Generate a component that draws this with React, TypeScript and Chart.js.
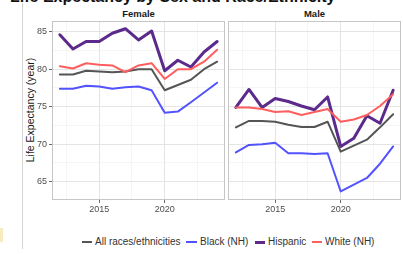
import React, { useEffect, useRef } from 'react';
import { Chart, registerables } from 'chart.js';

Chart.register(...registerables);

const years = [2012, 2013, 2014, 2015, 2016, 2017, 2018, 2019, 2020, 2021, 2022, 2023, 2024];

const femaleAll = [79.3, 79.3, 79.8, 79.7, 79.6, 79.7, 80.0, 80.0, 77.2, 77.9, 78.6, 80.0, 81.0];
const femaleBlack = [77.4, 77.4, 77.8, 77.7, 77.4, 77.6, 77.7, 77.2, 74.2, 74.35, 75.6, 76.9, 78.2];
const femaleHispanic = [84.6, 82.7, 83.7, 83.7, 84.8, 85.4, 83.9, 85.1, 79.8, 81.2, 80.3, 82.3, 83.7];
const femaleWhite = [80.4, 80.1, 80.8, 80.6, 80.5, 79.6, 80.5, 80.8, 78.7, 80.0, 80.0, 81.0, 82.6];

const maleAll = [72.25, 73.1, 73.1, 73.0, 72.6, 72.3, 72.3, 73.0, 69.0, 69.8, 70.6, 72.25, 74.0];
const maleBlack = [68.9, 69.9, 70.0, 70.2, 68.8, 68.8, 68.7, 68.8, 63.7, 64.6, 65.5, 67.4, 69.7];
const maleHispanic = [74.9, 77.3, 74.9, 76.1, 75.7, 75.1, 74.6, 76.3, 69.7, 70.8, 73.8, 72.8, 77.2];
const maleWhite = [74.9, 74.9, 74.7, 74.3, 74.4, 73.9, 74.3, 74.7, 73.0, 73.3, 73.9, 75.1, 76.65];

const seriesNames = ['All races/ethnicities', 'Black (NH)', 'Hispanic', 'White (NH)'];
const seriesColors = ['#555555', '#5252ff', '#5b2a8c', '#ff5e5e'];
const seriesWidths = [2, 2, 3, 2];

const yMajorTicks = [65, 70, 75, 80, 85];
const yMinorTicks = [67.5, 72.5, 77.5, 82.5];
const xMajorTicks = [2015, 2020];
const xMinorTicks = [2012.5, 2017.5, 2022.5];

const Y_MIN = 62.56;
const Y_MAX = 86.43;
const X_MIN = 2011.4;
const X_MAX = 2024.6;

const FONT = '"Liberation Sans", Arial, Helvetica, sans-serif';

const panelBorder = {
  id: 'panelBorder',
  afterDraw(chart: any) {
    const { ctx, chartArea: a } = chart;
    ctx.save();
    ctx.strokeStyle = '#c6c6c6';
    ctx.lineWidth = 1;
    ctx.strokeRect(Math.round(a.left) + 0.5, Math.round(a.top) + 0.5, Math.round(a.right - a.left) - 1, Math.round(a.bottom - a.top) - 1);
    ctx.restore();
  },
};

function makeDatasets(values: number[][]) {
  return values.map((vals, i) => ({
    label: seriesNames[i],
    data: years.map((y, j) => ({ x: y, y: vals[j] })),
    borderColor: seriesColors[i],
    backgroundColor: seriesColors[i],
    borderWidth: seriesWidths[i],
    pointRadius: 0,
    tension: 0,
    fill: false,
    order: 4 - i,
    borderJoinStyle: 'round',
    borderCapStyle: 'round',
  }));
}

function isMajor(v: number, majors: number[]) {
  return majors.some((m) => Math.abs(m - v) < 1e-6);
}

function makeOptions(showY: boolean, padding: any, yWidth: number) {
  return {
    responsive: false,
    maintainAspectRatio: false,
    animation: false,
    events: [],
    layout: { padding },
    plugins: { legend: { display: false }, tooltip: { enabled: false } },
    scales: {
      x: {
        type: 'linear',
        min: X_MIN,
        max: X_MAX,
        afterBuildTicks: (s: any) => {
          s.ticks = [...xMinorTicks, ...xMajorTicks].sort((a, b) => a - b).map((v) => ({ value: v }));
        },
        afterFit: (s: any) => {
          s.height = 16;
        },
        border: { display: false },
        grid: {
          color: (c: any) => (c.tick && isMajor(c.tick.value, xMajorTicks) ? '#e4e4e4' : '#f1f1f1'),
          lineWidth: (c: any) => (c.tick && isMajor(c.tick.value, xMajorTicks) ? 1 : 0.7),
          drawTicks: true,
          tickLength: 3,
          tickColor: (c: any) => (c.tick && isMajor(c.tick.value, xMajorTicks) ? '#444444' : 'rgba(0,0,0,0)'),
          tickWidth: 0.8,
        },
        ticks: {
          autoSkip: false,
          maxRotation: 0,
          padding: 1,
          color: '#4d4d4d',
          font: { family: FONT, size: 9 },
          callback: (v: any) => (isMajor(Number(v), xMajorTicks) ? String(Math.round(Number(v))) : ''),
        },
      },
      y: {
        type: 'linear',
        min: Y_MIN,
        max: Y_MAX,
        afterBuildTicks: (s: any) => {
          s.ticks = [...yMinorTicks, ...yMajorTicks].sort((a, b) => a - b).map((v) => ({ value: v }));
        },
        afterFit: (s: any) => {
          s.width = yWidth;
        },
        border: { display: false },
        grid: {
          color: (c: any) => (c.tick && isMajor(c.tick.value, yMajorTicks) ? '#e4e4e4' : '#f1f1f1'),
          lineWidth: (c: any) => (c.tick && isMajor(c.tick.value, yMajorTicks) ? 1 : 0.7),
          drawTicks: showY,
          tickLength: 3,
          tickColor: (c: any) => (c.tick && isMajor(c.tick.value, yMajorTicks) ? '#444444' : 'rgba(0,0,0,0)'),
          tickWidth: 0.8,
        },
        ticks: {
          display: showY,
          autoSkip: false,
          padding: 2,
          color: '#4d4d4d',
          font: { family: FONT, size: 9 },
          callback: (v: any) => (isMajor(Number(v), yMajorTicks) ? String(Math.round(Number(v))) : ''),
        },
      },
    },
  };
}

function Panel(props: { values: number[][]; showY: boolean; left: number; top: number; width: number; height: number; padding: any; yWidth: number }) {
  const ref = useRef<HTMLCanvasElement | null>(null);
  useEffect(() => {
    if (!ref.current) return;
    const chart = new Chart(ref.current, {
      type: 'line',
      data: { datasets: makeDatasets(props.values) as any },
      options: makeOptions(props.showY, props.padding, props.yWidth) as any,
      plugins: [panelBorder],
    });
    return () => chart.destroy();
  }, []);
  return (
    <canvas
      ref={ref}
      width={props.width}
      height={props.height}
      style={{ position: 'absolute', left: props.left, top: props.top, width: props.width, height: props.height }}
    />
  );
}

const legendItems = [
  { lineLeft: 82, lineW: 10 },
  { lineLeft: 186, lineW: 11 },
  { lineLeft: 255, lineW: 10 },
  { lineLeft: 312, lineW: 10 },
];

export default function App() {
  return (
    <div
      style={{
        position: 'fixed',
        left: 0,
        top: 0,
        width: 403,
        height: 254,
        background: '#ffffff',
        overflow: 'hidden',
        fontFamily: FONT,
      }}
    >
      <div
        style={{
          position: 'absolute',
          left: 10,
          top: -11,
          fontSize: 16,
          lineHeight: '16px',
          fontWeight: 'bold',
          color: '#111',
          whiteSpace: 'nowrap',
        }}
      >
        Life Expectancy by Sex and Race/Ethnicity
      </div>
      <div style={{ position: 'absolute', left: 22, top: 3, width: 1, height: 246, background: '#d6d6d6' }} />
      <div style={{ position: 'absolute', left: 0, top: 228, width: 3, height: 14, background: '#f7ecc0' }} />

      <div
        style={{
          position: 'absolute',
          left: 52,
          width: 173,
          top: 8,
          textAlign: 'center',
          fontSize: 9.5,
          lineHeight: '12px',
          fontWeight: 'bold',
          color: '#1a1a1a',
        }}
      >
        Female
      </div>
      <div
        style={{
          position: 'absolute',
          left: 228,
          width: 173,
          top: 8,
          textAlign: 'center',
          fontSize: 9.5,
          lineHeight: '12px',
          fontWeight: 'bold',
          color: '#1a1a1a',
        }}
      >
        Male
      </div>

      <div
        style={{
          position: 'absolute',
          left: 30,
          top: 110,
          transform: 'translate(-50%, -50%) rotate(-90deg)',
          fontSize: 10.5,
          lineHeight: '12px',
          color: '#1a1a1a',
          whiteSpace: 'nowrap',
        }}
      >
        Life Expectancy (year)
      </div>

      <Panel
        values={[femaleAll, femaleBlack, femaleHispanic, femaleWhite]}
        showY={true}
        left={28}
        top={13}
        width={198}
        height={203}
        padding={{ left: 0, top: 8, right: 1, bottom: 0 }}
        yWidth={24}
      />
      <Panel
        values={[maleAll, maleBlack, maleHispanic, maleWhite]}
        showY={false}
        left={227}
        top={13}
        width={176}
        height={203}
        padding={{ left: 1, top: 8, right: 2, bottom: 0 }}
        yWidth={0}
      />

      {legendItems.map((it, i) => (
        <div key={i}>
          <div
            style={{
              position: 'absolute',
              left: it.lineLeft,
              top: 242 - seriesWidths[i] / 2,
              width: it.lineW,
              height: seriesWidths[i],
              background: seriesColors[i],
            }}
          />
          <div
            style={{
              position: 'absolute',
              left: it.lineLeft + it.lineW + 3,
              top: 236,
              fontSize: 10,
              lineHeight: '12px',
              color: '#333',
              whiteSpace: 'nowrap',
            }}
          >
            {seriesNames[i]}
          </div>
        </div>
      ))}
    </div>
  );
}
